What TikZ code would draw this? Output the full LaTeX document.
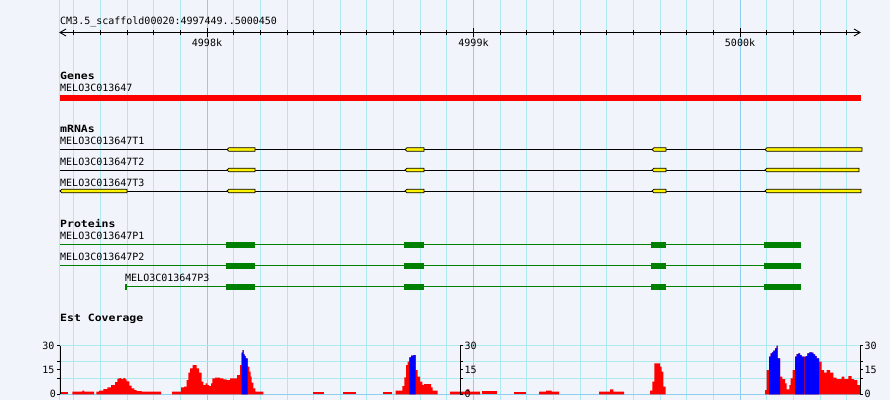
\documentclass[tikz,border=0pt]{standalone}
\usepackage{fontspec}
\usepackage{graphicx}
\newfontfamily\gbfont{DejaVu Sans Mono}
\definecolor{bgc}{RGB}{241,244,250}
\definecolor{gridc}{RGB}{170,234,240}
\definecolor{gridm}{RGB}{140,206,236}
\definecolor{cdsgreen}{RGB}{0,128,0}
\newcommand\hdrtext[1]{\scalebox{1.15}[1]{\bfseries #1}}
\newcommand\exonbox[3]{\filldraw[exonst] (#1,#3) -- (#1+2,#3-1.8) -- (#2,#3-1.8) -- (#2,#3+1.8) -- (#1+2,#3+1.8) -- cycle;}
\newcommand\cdsbox[3]{\fill[cdsgreen] (#1,#3-3) rectangle (#2,#3+3);}
\begin{document}
\begin{tikzpicture}[x=1pt,y=-1pt,
  txt/.style={inner sep=0pt, anchor=base west, font=\gbfont\fontsize{10}{12}\selectfont},
  hdr/.style={inner sep=0pt, anchor=base west, font=\gbfont\fontsize{10}{12}\selectfont},
  gridline/.style={gridc, line width=0.9pt},
  majorline/.style={gridm, line width=0.9pt},
  exonst/.style={fill=yellow, draw=black, line width=0.8pt},
  intron/.style={black, line width=0.9pt},
  protline/.style={cdsgreen, line width=0.9pt},
  axisline/.style={black, line width=0.9pt},
  redbar/.style={fill=red},
  bluebar/.style={fill=blue}]
\useasboundingbox (0,0) rectangle (890,400);
\fill[bgc] (0,0) rectangle (890,400);
% vertical grid
\draw[gridline] (59.5,0) -- (59.5,400);
\foreach \k in {-5,...,24}{
  \pgfmathsetmacro\gx{207+\k*26.65}
  \draw[gridline] (\gx,0) -- (\gx,400);
}
\foreach \gx in {207,473.5,740}{\draw[majorline] (\gx,0) -- (\gx,400);}
% coverage horizontal grid
\foreach \gy in {345.7,361.9,378.1}{\draw[gridline] (60,\gy) -- (860,\gy);}
\draw[majorline] (60,394.3) -- (860,394.3);
% ruler
\node[txt] (title) at (60,24.5) {CM3.5\_scaffold00020:4997449..5000450};
\coordinate (rl) at (60,32.5);
\coordinate (rr) at (860,32.5);
\draw[axisline] (rl) -- (rr);
\draw[axisline] (66,29) -- (rl) -- (66,36);
\draw[axisline] (854,29) -- (rr) -- (854,36);
\foreach \k in {-5,...,24}{
  \pgfmathsetmacro\gx{207+\k*26.65}
  \draw[axisline] (\gx,30) -- (\gx,35);
}
\foreach \gx in {207,473.5,740}{\draw[axisline] (\gx,28.3) -- (\gx,36.7);}
\node[txt, anchor=base] (k1) at (207,46) {4998k};
\node[txt, anchor=base] (k2) at (473.5,46) {4999k};
\node[txt, anchor=base] (k3) at (740,46) {5000k};
% genes
\node[hdr] (genes) at (60,79) {\hdrtext{Genes}};
\node[txt] (gene1) at (60,91.5) {MELO3C013647};
\fill[red] (60,95) rectangle (861,101);
% mRNAs
\node[hdr] (mrnas) at (60,132.3) {\hdrtext{mRNAs}};
\node[txt] (t1) at (60,144) {MELO3C013647T1};
\node[txt] (t2) at (60,165) {MELO3C013647T2};
\node[txt] (t3) at (60,186) {MELO3C013647T3};
\draw[intron] (60,149.5) -- (862,149.5);
\draw[intron] (60,170) -- (859,170);
\draw[intron] (60,191) -- (861,191);
\foreach \y/\e in {149.5/862,170/859,191/861}{
  \exonbox{227}{255}{\y}
  \exonbox{405}{424}{\y}
  \exonbox{652}{666}{\y}
  \exonbox{765}{\e}{\y}
}
\exonbox{60}{127}{191}
% proteins
\node[hdr] (prots) at (60,227) {\hdrtext{Proteins}};
\node[txt] (p1) at (60,239.5) {MELO3C013647P1};
\node[txt] (p2) at (60,260) {MELO3C013647P2};
\node[txt] (p3) at (125,281) {MELO3C013647P3};
\draw[protline] (60,244.5) -- (801,244.5);
\draw[protline] (60,265.5) -- (801,265.5);
\draw[protline] (126,286.5) -- (801,286.5);
\fill[cdsgreen] (125,284.2) rectangle (127.2,289.5);
\foreach \y in {245,266,287}{
  \cdsbox{226}{255}{\y}
  \cdsbox{404}{424}{\y}
  \cdsbox{651}{666}{\y}
  \cdsbox{764}{801}{\y}
}
% coverage
\node[hdr] (est) at (60,321.7) {\hdrtext{Est Coverage}};
\begin{scope}[yshift=-300pt, xscale=1/3, yscale=1/3]
\fill[redbar] (182,275) rectangle (204,283);
\fill[redbar] (217,283) |- (247,275) |- (252,272) |- (282,275) -- (282,283) -- cycle;
\fill[redbar] (289,283) |- (297,275) |- (310,272) |- (322,267) |- (333,262) |- (345,255) |- (352,246) |- (358,236) |- (364,234) |- (370,237) |- (376,234) |- (380,238) |- (388,244) |- (395,257) |- (403,265) |- (410,270) |- (425,273) |- (483,275) -- (483,283) -- cycle;
\fill[redbar] (516,283) |- (543,275) |- (552,262) |- (560,260) |- (565,240) |- (570,218) |- (578,205) |- (590,195) |- (597,205) |- (605,218) |- (610,245) |- (617,255) |- (622,250) |- (627,255) |- (633,258) |- (637,250) |- (645,235) |- (660,233) |- (670,235) |- (680,238) |- (690,240) |- (700,235) |- (711,235) |- (720,225) |- (725,195) |- (728,158) |- (731,150) |- (734,163) |- (737,168) |- (743,175) |- (748,200) |- (752,215) |- (755,230) |- (760,248) |- (766,265) |- (790,275) -- (790,283) -- cycle;
\fill[bluebar] (725,283) |- (728,158) |- (731,150) |- (734,163) |- (737,168) |- (743,175) -- (743,283) -- cycle;
\end{scope}
\begin{scope}[xshift=300pt, yshift=-300pt, xscale=1/3, yscale=1/3]
\fill[redbar] (40,275) rectangle (62,283);
\fill[redbar] (64,275) rectangle (72,283);
\fill[redbar] (129,275) rectangle (167,283);
\fill[redbar] (248,275) rectangle (276,283);
\fill[redbar] (287,283) |- (307,272) |- (313,258) |- (318,232) |- (323,195) |- (328,185) |- (333,172) |- (341,167) |- (347,165) |- (353,210) |- (360,230) |- (367,245) |- (372,255) |- (393,252) |- (398,262) |- (413,272) -- (413,283) -- cycle;
\fill[bluebar] (328,283) |- (333,172) |- (341,167) |- (347,165) -- (347,283) -- cycle;
\fill[redbar] (450,283) |- (500,275) |- (508,268) |- (540,275) -- (540,283) -- cycle;
\fill[redbar] (546,272) rectangle (590,283);
\fill[redbar] (641,275) rectangle (678,283);
\fill[redbar] (717,283) |- (738,275) |- (755,272) |- (777,275) -- (777,283) -- cycle;
\end{scope}
\begin{scope}[xshift=600pt, yshift=-300pt, xscale=1/3, yscale=1/3]
\fill[redbar] (-3,283) |- (30,275) |- (40,268) |- (72,275) -- (72,283) -- cycle;
\fill[redbar] (150,283) |- (157,272) |- (163,245) |- (180,190) |- (185,200) |- (190,215) |- (197,260) -- (197,283) -- cycle;
\fill[redbar] (495,283) |- (500,270) |- (507,210) |- (512,170) |- (516,160) |- (520,157) |- (525,152) |- (530,145) |- (533,137) |- (540,175) |- (547,230) |- (555,237) |- (560,250) |- (568,268) |- (572,255) |- (578,235) |- (585,210) |- (590,170) |- (595,162) |- (600,160) |- (605,165) |- (612,170) |- (614,170) |- (618,170) |- (622,168) |- (628,160) |- (635,157) |- (640,158) |- (645,163) |- (650,168) |- (657,175) |- (665,185) |- (672,210) |- (680,218) |- (690,210) |- (700,218) |- (710,233) |- (725,237) |- (733,230) |- (745,237) |- (755,228) |- (762,237) |- (772,240) |- (780,255) -- (780,283) -- cycle;
\fill[bluebar] (507,283) |- (512,170) |- (516,160) |- (520,157) |- (525,152) |- (530,145) |- (533,137) |- (540,175) -- (540,283) -- cycle;
\fill[bluebar] (585,283) |- (590,170) |- (595,162) |- (600,160) |- (605,165) |- (612,170) -- (612,283) -- cycle;
\fill[bluebar] (614,283) |- (618,170) |- (622,168) |- (628,160) |- (635,157) |- (640,158) |- (645,163) |- (650,168) |- (657,175) -- (657,283) -- cycle;
\end{scope}
% axes
\draw[axisline] (60.3,345.7) -- (60.3,394.3);
\foreach \gy in {345.7,361.9,369.8,378.1,394.3}{\draw[axisline] (57.3,\gy) -- (60.3,\gy);}
\node[txt, anchor=base east] (la30) at (54.5,349.3) {30};
\node[txt, anchor=base east] (la15) at (54.5,373.4) {15};
\node[txt, anchor=base east] (la0) at (56,397.9) {0};
\foreach \ax/\nm in {460.3/m,860.3/r}{
  \draw[axisline] (\ax,345.7) -- (\ax,394.3);
  \foreach \gy in {345.7,361.9,369.8,378.1,394.3}{\draw[axisline] (\ax,\gy) -- (\ax+3,\gy);}
  \node[txt] (\nm30) at (\ax+4,349.3) {30};
  \node[txt] (\nm15) at (\ax+4,373.4) {15};
  \node[txt] (\nm0) at (\ax+4,397.9) {0};
}
\end{tikzpicture}
\end{document}
